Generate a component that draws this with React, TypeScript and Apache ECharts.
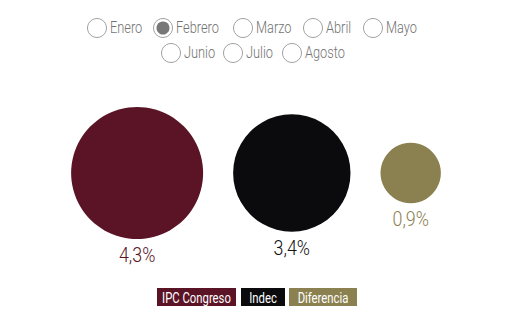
import React, { useEffect, useRef } from "react";
import * as echarts from "echarts";

const months = ["Enero", "Febrero", "Marzo", "Abril", "Mayo", "Junio", "Julio", "Agosto"];
const selectedMonth = "Febrero";
const seriesNames = ["IPC Congreso", "Indec", "Diferencia"];
const seriesValues = [4.3, 3.4, 0.9];
const seriesColors = ["#5b1426", "#0b0b0d", "#8b8150"];
const labelColors = ["#5b1426", "#111111", "#8b8150"];

const FONT = "Roboto, 'Noto Sans', sans-serif";
const SX = 0.8;

// layout (positions of radio controls, from reference)
const radioPos: Record<string, [number, number]> = {
  Enero: [97, 28],
  Febrero: [163, 28],
  Marzo: [243, 28],
  Abril: [313, 28],
  Mayo: [373, 28],
  Junio: [171, 53],
  Julio: [233, 53],
  Agosto: [292, 53],
};
const legendBoxes: [number, number][] = [
  [157, 79],
  [241, 44],
  [289, 68],
];

export default function App() {
  const ref = useRef<HTMLDivElement>(null);
  useEffect(() => {
    if (!ref.current) return;
    const chart = echarts.init(ref.current, null, { renderer: "svg" });

    const k = 66 / Math.sqrt(4.3);
    const radii = seriesValues.map((v) => k * Math.sqrt(v));
    const gap = 30;
    const total = radii.reduce((s, r) => s + 2 * r, 0) + gap * (radii.length - 1);
    const startX = 256 - total / 2;
    const centers: number[] = [];
    let acc = startX;
    radii.forEach((r) => {
      centers.push(acc + r);
      acc += 2 * r + gap;
    });
    const cy = 173;

    const graphics: any[] = [];
    months.forEach((m) => {
      const [x, y] = radioPos[m];
      graphics.push({
        type: "circle",
        shape: { cx: x, cy: y, r: 9.5 },
        style: { fill: "#fff", stroke: "#a0a0a0", lineWidth: 1 },
      });
      if (m === selectedMonth) {
        graphics.push({
          type: "circle",
          shape: { cx: x, cy: y, r: 6.5 },
          style: { fill: "#777777" },
        });
      }
      graphics.push({
        type: "text",
        x: x + 13,
        y: y,
        scaleX: SX,
        style: {
          text: m,
          fill: "#737373",
          font: `300 16px ${FONT}`,
          verticalAlign: "middle",
        },
      });
    });
    seriesNames.forEach((n, i) => {
      const [x, w] = legendBoxes[i];
      graphics.push({
        type: "rect",
        shape: { x, y: 288, width: w, height: 18 },
        style: { fill: seriesColors[i] },
      });
      graphics.push({
        type: "text",
        x: x + w / 2,
        y: 297.5,
        scaleX: 0.78,
        style: {
          text: n,
          fill: "#ffffff",
          font: `400 14.5px ${FONT}`,
          align: "center",
          verticalAlign: "middle",
        },
      });
    });

    chart.setOption({
      animation: false,
      backgroundColor: "#ffffff",
      graphic: graphics,
      series: [
        {
          type: "custom",
          coordinateSystem: "none",
          data: seriesValues.map((v, i) => ({ value: v, name: seriesNames[i] })),
          renderItem: (params: any, api: any) => {
            const i = params.dataIndex;
            const v = api.value(0);
            const r = k * Math.sqrt(v);
            const cx = centers[i];
            return {
              type: "group",
              children: [
                {
                  type: "circle",
                  shape: { cx, cy, r },
                  style: { fill: seriesColors[i] },
                },
                {
                  type: "text",
                  x: cx,
                  y: cy + r + 16,
                  scaleX: 0.85,
                  style: {
                    text: v.toFixed(1).replace(".", ",") + "%",
                    fill: labelColors[i],
                    font: `300 21px ${FONT}`,
                    align: "center",
                    verticalAlign: "middle",
                  },
                },
              ],
            };
          },
        },
      ],
    });
    return () => chart.dispose();
  }, []);
  return <div ref={ref} style={{ width: 523, height: 326, position: "absolute", left: 0, top: 0 }} />;
}
